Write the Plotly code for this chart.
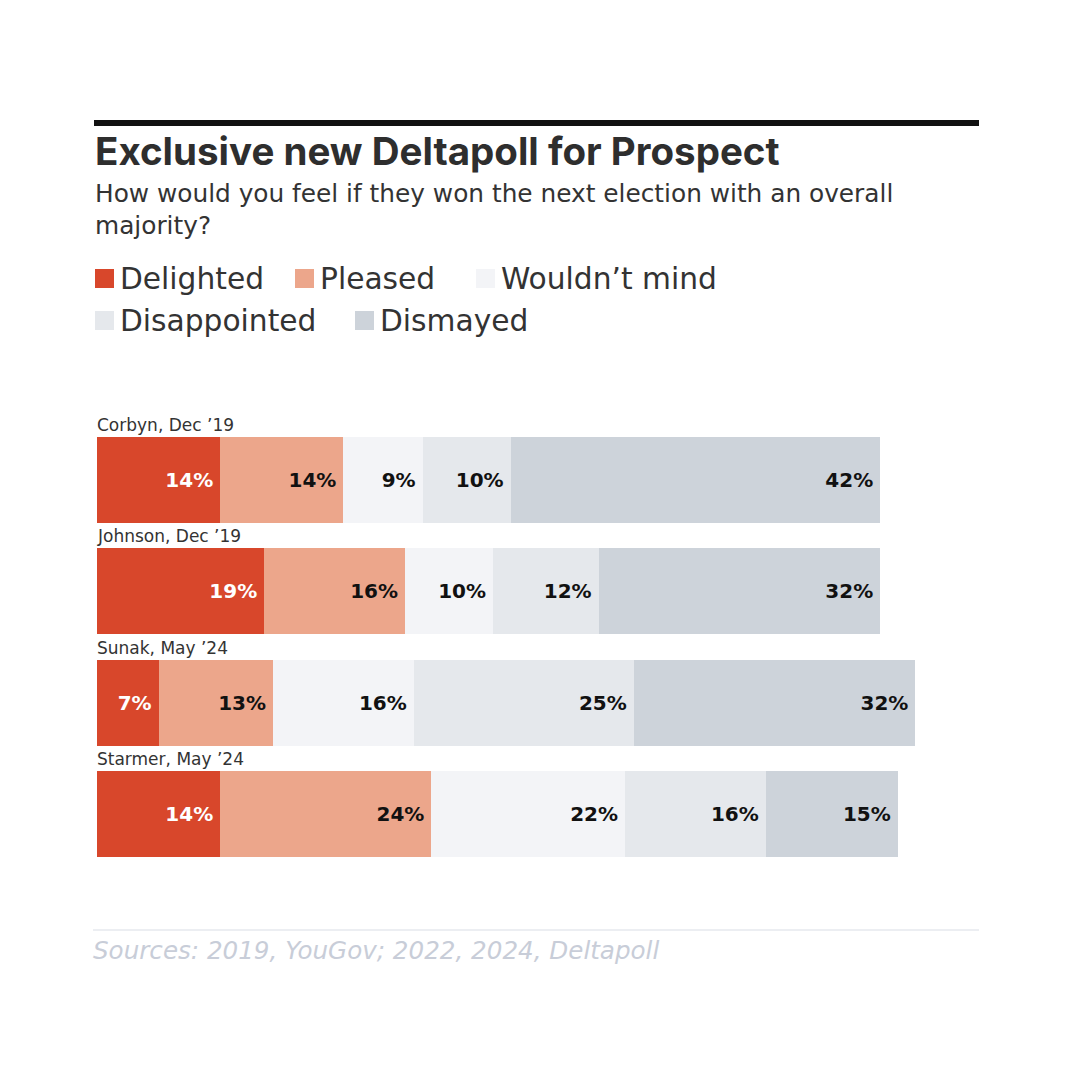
import plotly.graph_objects as go

# ---- data ----
categories = ["Corbyn, Dec ’19", "Johnson, Dec ’19", "Sunak, May ’24", "Starmer, May ’24"]
series_names = ["Delighted", "Pleased", "Wouldn’t mind", "Disappointed", "Dismayed"]
delighted = [14, 19, 7, 14]
pleased = [14, 16, 13, 24]
wouldnt_mind = [9, 10, 16, 22]
disappointed = [10, 12, 25, 16]
dismayed = [42, 32, 32, 15]
series_values = [delighted, pleased, wouldnt_mind, disappointed, dismayed]

colors = ["#d8472b", "#eca68b", "#f3f4f7", "#e5e8ec", "#cdd3da"]
text_colors = ["#ffffff", "#111111", "#111111", "#111111", "#111111"]

W, H = 1080, 1080
L, R = 97, 977
T, B = 424, 870


def xp(px):
    return (px - L) / (R - L)


def yp(py):
    return (B - py) / (B - T)


fig = go.Figure()
for name, vals, c, tc in zip(series_names, series_values, colors, text_colors):
    fig.add_trace(go.Bar(
        y=categories, x=vals, name=name, orientation="h",
        marker=dict(color=c, line=dict(width=0)),
        text=[f"{v}%\u2009" for v in vals],
        textposition="inside", insidetextanchor="end", textangle=0,
        textfont=dict(family="DejaVu Sans", size=20, color=tc, weight=700),
        hoverinfo="skip", showlegend=False,
    ))

annotations = []
shapes = []

# category labels above bars
for cat in categories:
    annotations.append(dict(
        x=0, y=cat, xref="x", yref="y", text=cat, showarrow=False,
        xanchor="left", yanchor="middle", yshift=55, xshift=-2,
        font=dict(family="DejaVu Sans", size=17, color="#333333"),
    ))

# top rule
shapes.append(dict(type="line", xref="paper", yref="paper",
                   x0=xp(94), x1=xp(979), y0=yp(123), y1=yp(123),
                   line=dict(color="#111111", width=6)))
# title
annotations.append(dict(xref="paper", yref="paper", x=xp(93), y=yp(151),
                        xanchor="left", yanchor="middle", showarrow=False,
                        text="<b>Exclusive new Deltapoll for Prospect</b>",
                        font=dict(family="Inter", size=38.5, color="#2e2e2e")))
# subtitle
annotations.append(dict(xref="paper", yref="paper", x=xp(93), y=yp(209),
                        xanchor="left", yanchor="middle", showarrow=False, align="left",
                        text="How would you feel if they won the next election with an overall<br>majority?",
                        font=dict(family="DejaVu Sans", size=24.8, color="#333333")))

# legend (custom)
legend_pos = [(95, 278), (295, 278), (476, 278), (95, 320), (355, 320)]
for name, c, (lx, ly) in zip(series_names, colors, legend_pos):
    shapes.append(dict(type="rect", xref="paper", yref="paper",
                       x0=xp(lx), x1=xp(lx + 19), y0=yp(ly - 9), y1=yp(ly + 10),
                       fillcolor=c, line=dict(width=0)))
    annotations.append(dict(xref="paper", yref="paper", x=xp(lx + 23), y=yp(ly),
                            xanchor="left", yanchor="middle", showarrow=False,
                            text=name, font=dict(family="DejaVu Sans", size=29.7, color="#333333")))

# source rule and text
shapes.append(dict(type="line", xref="paper", yref="paper",
                   x0=xp(93), x1=xp(979), y0=yp(930), y1=yp(930),
                   line=dict(color="#eceef2", width=2)))
annotations.append(dict(xref="paper", yref="paper", x=xp(91), y=yp(950),
                        xanchor="left", yanchor="middle", showarrow=False,
                        text="<i>Sources: 2019, YouGov; 2022, 2024, Deltapoll</i>",
                        font=dict(family="DejaVu Sans", size=24.6, color="#c8cdd8")))

fig.update_layout(
    width=W, height=H, barmode="stack", bargap=0.23,
    margin=dict(l=L, r=W - R, t=T, b=H - B, pad=0),
    paper_bgcolor="white", plot_bgcolor="white",
    xaxis=dict(range=[0, 100], visible=False, fixedrange=True),
    yaxis=dict(categoryorder="array", categoryarray=categories, range=[3.5, -0.5],
               autorange=False, visible=False, fixedrange=True),
    annotations=annotations, shapes=shapes,
    uniformtext=dict(mode=False),
)

fig.write_html("out.html")
